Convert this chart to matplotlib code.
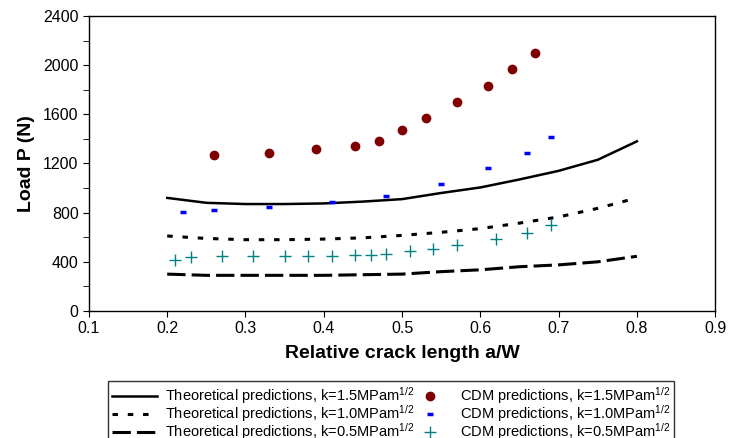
import numpy as np
import matplotlib
matplotlib.use('Agg')
import matplotlib.pyplot as plt
from matplotlib.ticker import MultipleLocator, FormatStrFormatter

plt.rcParams['font.family'] = ['Liberation Sans', 'DejaVu Sans']
plt.rcParams['mathtext.fontset'] = 'custom'
plt.rcParams['mathtext.rm'] = 'Liberation Sans'
plt.rcParams['mathtext.it'] = 'Liberation Sans'

# Theoretical curves
a_theory = [0.20, 0.25, 0.30, 0.35, 0.40, 0.45, 0.50, 0.55, 0.60, 0.65, 0.70, 0.75, 0.80]
theory_15 = [920, 880, 870, 870, 875, 890, 910, 960, 1005, 1070, 1140, 1230, 1380]
theory_10 = [610, 590, 580, 580, 585, 595, 615, 640, 670, 715, 765, 835, 920]
theory_05 = [300, 290, 290, 290, 290, 295, 300, 320, 335, 360, 375, 400, 445]

# CDM predictions
a_cdm15 = [0.26, 0.33, 0.39, 0.44, 0.47, 0.50, 0.53, 0.57, 0.61, 0.64, 0.67]
cdm_15 = [1265, 1285, 1315, 1345, 1385, 1470, 1570, 1700, 1830, 1965, 2100]
a_cdm10 = [0.22, 0.26, 0.33, 0.41, 0.48, 0.55, 0.61, 0.66, 0.69]
cdm_10 = [805, 825, 850, 885, 935, 1030, 1160, 1285, 1415]
a_cdm05 = [0.21, 0.23, 0.27, 0.31, 0.35, 0.38, 0.41, 0.44, 0.46, 0.48,
           0.51, 0.54, 0.57, 0.62, 0.66, 0.69]
cdm_05 = [415, 440, 445, 445, 445, 445, 445, 455, 455, 465,
          490, 505, 535, 585, 635, 700]

sup = r'$^{\mathregular{1/2}}$'
lab_t = ['Theoretical predictions, k=%sMPam' % k + sup for k in ('1.5', '1.0', '0.5')]
lab_c = ['CDM predictions, k=%sMPam' % k + sup for k in ('1.5', '1.0', '0.5')]

fig = plt.figure(figsize=(7.29, 4.38), dpi=100)
ax = fig.add_axes([0.122, 0.29, 0.859, 0.6735])

l1, = ax.plot(a_theory, theory_15, '-', color='black', lw=1.8)
l2, = ax.plot(a_theory, theory_10, color='black', lw=2.2, linestyle=(0, (1.8, 3.2)))
l3, = ax.plot(a_theory, theory_05, color='black', lw=2.2, linestyle=(0, (6, 2)))
p1, = ax.plot(a_cdm15, cdm_15, 'o', color='#800000', ms=6, ls='none')
p2, = ax.plot(a_cdm10, cdm_10, '_', color='blue', ms=5, mew=2.5, ls='none')
p3, = ax.plot(a_cdm05, cdm_05, '+', color='#008080', ms=8, mew=1.0, ls='none')

ax.set_xlim(0.1, 0.9)
ax.set_ylim(0, 2400)
ax.xaxis.set_major_locator(MultipleLocator(0.1))
ax.xaxis.set_major_formatter(FormatStrFormatter('%.1f'))
ax.yaxis.set_major_locator(MultipleLocator(400))
ax.yaxis.set_minor_locator(MultipleLocator(200))
ax.tick_params(axis='both', which='major', direction='out', length=4, labelsize=11.5)
ax.tick_params(axis='y', which='minor', direction='out', length=4)
ax.set_xlabel('Relative crack length a/W', fontsize=14, fontweight='bold', labelpad=6)
ax.set_ylabel('Load P (N)', fontsize=14, fontweight='bold', labelpad=6)
for s in ax.spines.values():
    s.set_linewidth(1.0)

leg = fig.legend([l1, l2, l3, p1, p2, p3], lab_t + lab_c, ncol=2,
                 loc='upper left', bbox_to_anchor=(0.148, 0.130),
                 fontsize=10.5, frameon=True, fancybox=False, edgecolor='black',
                 labelspacing=-0.2, columnspacing=-0.5, handlelength=3.1,
                 handletextpad=0.5, borderpad=0.3, borderaxespad=0)
leg.get_frame().set_linewidth(1.0)

fig.savefig('out.png', dpi=100)
